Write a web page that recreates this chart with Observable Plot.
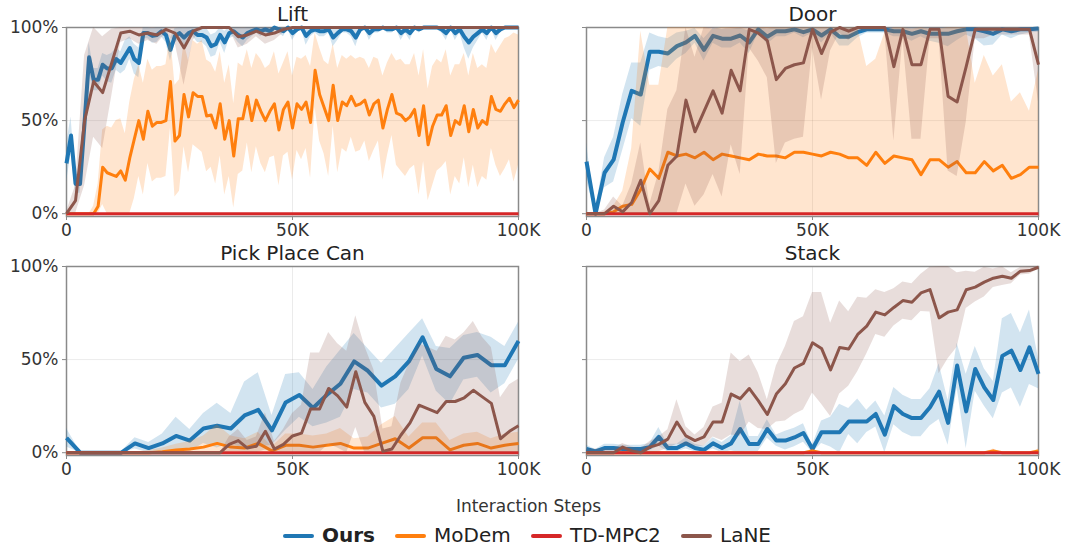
<!DOCTYPE html>
<html><head><meta charset="utf-8">
<script src="https://cdn.jsdelivr.net/npm/d3@7"></script>
<script src="https://cdn.jsdelivr.net/npm/@observablehq/plot@0.6"></script>
<style>
body{margin:0;background:#fff;font-family:"DejaVu Sans",sans-serif;}
#root{position:relative;width:1067px;height:550px;overflow:hidden;background:#fff;}
.panel{position:absolute;}
.panel svg{overflow:visible;}
#legend{position:absolute;left:0;top:0;}
</style></head><body><div id="root"></div>
<script>
// ---------- labels ----------
const methods = ["Ours", "MoDem", "TD-MPC2", "LaNE"];
const colors = ["#1f77b4", "#ff7f0e", "#d62728", "#8c564b"];
const tasks = ["Lift", "Door", "Pick Place Can", "Stack"];
const xTicks = [0, 50, 100];
const xTickLabels = ["0", "50K", "100K"];
const yTicks = [0, 0.5, 1];
const yTickLabels = ["0%", "50%", "100%"];
const xLabel = "Interaction Steps";

// x sampling grids (thousands of steps)
const steps1 = d3.range(0, 101, 1);
const steps2 = d3.range(0, 101, 2);
const steps3 = d3.range(34).map(i => i * 100 / 33);

// ---------- Lift ----------
const liftOurs = [0.27,0.42,0.16,0.16,0.49,0.84,0.72,0.72,0.80,0.78,
 0.78,0.83,0.81,0.85,0.89,0.83,0.81,0.97,0.97,0.955,
 0.96,0.98,0.96,0.88,0.955,0.97,0.946,0.97,0.98,0.96,
 0.96,0.946,0.90,0.91,0.96,0.92,0.97,0.98,0.96,0.946,
 0.97,0.98,0.99,0.98,0.99,0.98,1.0,0.99,0.98,1.0,
 0.97,0.99,1.0,0.955,0.98,0.99,0.98,0.98,0.99,0.946,
 0.97,0.99,0.99,0.98,0.946,0.99,1.0,0.97,0.99,0.99,
 1.0,0.99,0.99,1.0,0.97,0.99,0.97,1.0,0.99,1.0,
 1.0,1.0,1.0,0.99,0.97,1.0,0.97,0.99,0.95,0.92,
 0.95,0.97,0.99,0.97,1.0,0.97,0.99,1.0,1.0,1.0,
 1.0];
const liftOursSd = [0.1,0.1,0.05,0.05,0.1,0.08,0.06,0.06,0.06,0.07,
 0.08,0.06,0.06,0.08,0.06,0.08,0.08,0.03,0.03,0.04,
 0.04,0.03,0.04,0.06,0.04,0.03,0.05,0.03,0.03,0.04,
 0.04,0.05,0.06,0.06,0.04,0.06,0.03,0.03,0.04,0.05,
 0.04,0.03,0.02,0.03,0.02,0.03,0.01,0.02,0.03,0.01,
 0.04,0.02,0.01,0.05,0.03,0.02,0.03,0.03,0.02,0.05,
 0.04,0.02,0.02,0.03,0.05,0.02,0.01,0.04,0.02,0.02,
 0.01,0.02,0.02,0.01,0.04,0.02,0.04,0.01,0.02,0.01,
 0.01,0.01,0.01,0.02,0.04,0.01,0.04,0.02,0.06,0.09,
 0.06,0.04,0.02,0.04,0.01,0.04,0.02,0.01,0.01,0.01,
 0.01];
const liftModem = [0,0,0,0,0,0,0,0.04,0.25,0.22,
 0.21,0.20,0.23,0.18,0.30,0.40,0.50,0.40,0.55,0.47,
 0.49,0.49,0.50,0.71,0.39,0.42,0.64,0.52,0.65,0.63,
 0.63,0.525,0.53,0.46,0.59,0.40,0.50,0.31,0.51,0.51,
 0.63,0.50,0.61,0.55,0.50,0.55,0.59,0.45,0.56,0.60,
 0.46,0.59,0.56,0.60,0.49,0.77,0.64,0.57,0.50,0.69,
 0.50,0.60,0.58,0.63,0.58,0.59,0.61,0.53,0.59,0.61,
 0.46,0.56,0.64,0.54,0.53,0.50,0.52,0.56,0.42,0.58,
 0.37,0.47,0.53,0.53,0.58,0.42,0.50,0.48,0.58,0.44,
 0.56,0.46,0.50,0.48,0.63,0.56,0.55,0.59,0.62,0.57,
 0.61];
const liftModemSd = [0,0,0,0,0,0,0.04,0.12,0.2,0.25,
 0.25,0.3,0.28,0.25,0.3,0.32,0.3,0.3,0.28,0.3,
 0.3,0.3,0.3,0.25,0.3,0.3,0.28,0.3,0.28,0.28,
 0.3,0.3,0.28,0.3,0.28,0.3,0.3,0.28,0.3,0.28,
 0.25,0.28,0.25,0.28,0.28,0.25,0.28,0.3,0.25,0.27,
 0.28,0.25,0.27,0.25,0.3,0.2,0.25,0.25,0.3,0.22,
 0.28,0.25,0.25,0.22,0.25,0.25,0.22,0.25,0.25,0.22,
 0.28,0.25,0.22,0.28,0.3,0.3,0.28,0.3,0.32,0.3,
 0.3,0.32,0.3,0.28,0.3,0.32,0.3,0.32,0.28,0.3,
 0.3,0.32,0.3,0.3,0.28,0.3,0.35,0.35,0.33,0.4,
 0.35];
const liftLane = [0,0.07,0.5,0.71,0.65,0.81,0.97,0.98,0.96,0.97,
 0.96,0.99,0.97,0.89,0.98,1.0,1.0,1.0,1.0,0.95,
 0.96,0.98,0.96,0.97,0.99,1.0,1.0,1.0,1.0,1.0,
 1.0,1.0,1.0,1.0,1.0,1.0,1.0,1.0,1.0,1.0,
 1.0,1.0,1.0,1.0,1.0,1.0,1.0,1.0,1.0,1.0,
 1.0];
const liftLaneSd = [0.01,0.08,0.35,0.3,0.3,0.18,0.05,0.04,0.05,0.04,
 0.05,0.02,0.05,0.2,0.05,0.01,0.01,0.01,0.01,0.06,
 0.05,0.03,0.05,0.04,0.02,0,0,0,0,0,
 0,0,0,0,0,0,0,0,0,0,
 0,0,0,0,0,0,0,0,0,0,
 0];

// ---------- Door ----------
const doorOurs = [0.28,0.0,0.22,0.29,0.49,0.66,0.64,0.87,0.87,0.86,
 0.90,0.92,0.955,0.88,0.955,0.94,0.94,0.957,0.92,0.99,
 0.95,0.98,0.98,0.99,0.975,0.99,0.957,0.99,0.95,0.95,
 0.975,0.99,0.99,0.99,0.98,0.98,0.966,0.98,0.966,0.966,
 0.966,0.98,0.99,0.99,0.98,0.966,0.99,0.98,0.99,0.99,
 0.995];
const doorOursSd = [0.1,0.02,0.08,0.12,0.15,0.15,0.17,0.1,0.08,0.08,
 0.07,0.06,0.04,0.06,0.04,0.05,0.05,0.04,0.06,0.02,
 0.04,0.03,0.03,0.02,0.03,0.02,0.04,0.02,0.05,0.05,
 0.03,0.02,0.02,0.02,0.03,0.03,0.04,0.03,0.04,0.05,
 0.07,0.05,0.03,0.05,0.08,0.06,0.03,0.04,0.03,0.02,
 0.02];
const doorModem = [0,0,0,0.01,0.04,0.05,0.13,0.24,0.19,0.33,
 0.31,0.32,0.30,0.33,0.29,0.32,0.31,0.30,0.29,0.32,
 0.31,0.31,0.30,0.33,0.33,0.32,0.31,0.33,0.32,0.30,
 0.30,0.26,0.33,0.27,0.31,0.30,0.29,0.21,0.29,0.29,
 0.25,0.28,0.22,0.22,0.28,0.23,0.26,0.19,0.21,0.25,
 0.25];
const doorModemSd = [0,0,0.01,0.03,0.08,0.3,0.85,0.45,0.5,0.7,
 0.7,0.7,0.7,0.7,0.7,0.7,0.7,0.7,0.7,0.7,
 0.7,0.7,0.7,0.7,0.7,0.7,0.7,0.7,0.7,0.7,
 0.7,0.53,0.5,0.7,0.7,0.7,0.7,0.8,0.7,0.7,
 0.75,0.72,0.78,0.48,0.57,0.51,0.54,0.41,0.44,0.3,
 0.52];
const doorLane = [0,0,0,0.04,0.01,0.06,0.18,0.0,0.07,0.26,
 0.31,0.61,0.44,0.55,0.66,0.54,0.77,0.66,0.99,0.97,
 0.93,0.72,0.78,0.80,0.81,0.99,0.86,0.975,1.0,0.98,
 1.0,1.0,1.0,1.0,0.79,0.99,0.80,0.80,0.99,0.99,
 0.63,0.60,0.79,0.99,0.99,0.99,0.99,0.99,0.99,0.99,
 0.80];
const doorLaneSd = [0,0,0.02,0.05,0.03,0.1,0.2,0.05,0.15,0.3,
 0.35,0.45,0.4,0.45,0.45,0.45,0.4,0.45,0.1,0.15,
 0.2,0.45,0.4,0.4,0.4,0.1,0.25,0.1,0.03,0.05,
 0.02,0.02,0.02,0.02,0.4,0.05,0.4,0.4,0.05,0.05,
 0.4,0.4,0.3,0.05,0.05,0.03,0.03,0.03,0.03,0.03,
 0.2];

// ---------- Pick Place Can ----------
const ppcOurs = [0.08,0,0,0,0,0.05,0.025,0.05,0.09,0.065,
 0.13,0.145,0.13,0.20,0.23,0.12,0.27,0.31,0.24,0.31,
 0.37,0.49,0.44,0.36,0.41,0.49,0.62,0.45,0.41,0.51,
 0.525,0.47,0.47,0.60];
const ppcOursSd = [0.05,0.005,0.005,0.005,0.005,0.03,0.03,0.05,0.1,0.06,
 0.08,0.12,0.08,0.18,0.2,0.08,0.15,0.12,0.1,0.15,
 0.18,0.15,0.12,0.12,0.15,0.15,0.1,0.12,0.15,0.12,
 0.12,0.15,0.1,0.1];
const ppcModem = [0,0,0,0,0,0,0,0.005,0.015,0.02,
 0.03,0.05,0.03,0.025,0.05,0.01,0.04,0.04,0.03,0.04,
 0.05,0.025,0.025,0.05,0.075,0.025,0.08,0.08,0.015,0.04,
 0.05,0.025,0.04,0.05];
const ppcModemSd = [0,0,0,0,0,0.005,0.01,0.02,0.03,0.04,
 0.06,0.1,0.06,0.05,0.06,0.02,0.06,0.06,0.06,0.06,
 0.08,0.05,0.06,0.1,0.12,0.06,0.08,0.08,0.05,0.06,
 0.06,0.05,0.06,0.06];
const ppcLane = [0,0,0,0,0,0,0,0,0,0,
 0,0,0,0,0,0,0,0,0.045,0.065,
 0.025,0.035,0.115,0.02,0.045,0.09,0.105,0.235,0.235,0.345,
 0.305,0.245,0.435,0.27,0.195,0.007,0.02,0.095,0.16,0.255,
 0.235,0.215,0.275,0.275,0.295,0.335,0.30,0.265,0.075,0.115,
 0.145];
const ppcLaneSd = [0,0,0,0,0,0,0,0,0,0,
 0,0,0,0,0,0,0,0,0.04,0.06,
 0.04,0.05,0.1,0.04,0.08,0.12,0.15,0.3,0.3,0.3,
 0.28,0.3,0.3,0.3,0.25,0.12,0.12,0.28,0.33,0.33,
 0.33,0.33,0.35,0.33,0.35,0.37,0.32,0.3,0.22,0.25,
 0.25];

// ---------- Stack ----------
const stackOurs = [0.02,0.007,0.025,0.025,0.02,0.02,0.02,0.03,0.085,0.025,
 0.025,0.05,0.025,0.015,0.05,0.025,0.05,0.127,0.047,0.047,
 0.127,0.065,0.065,0.082,0.106,0.02,0.11,0.11,0.11,0.168,
 0.168,0.168,0.208,0.097,0.25,0.208,0.186,0.186,0.244,0.328,
 0.16,0.468,0.222,0.45,0.351,0.283,0.52,0.548,0.444,0.566,
 0.423];
const stackOursSd = [0.02,0.01,0.02,0.02,0.02,0.02,0.02,0.02,0.05,0.02,
 0.02,0.03,0.02,0.02,0.03,0.03,0.04,0.15,0.04,0.04,
 0.05,0.03,0.05,0.05,0.05,0.02,0.06,0.08,0.15,0.07,
 0.12,0.06,0.07,0.1,0.1,0.1,0.1,0.1,0.1,0.15,
 0.12,0.12,0.2,0.12,0.1,0.1,0.2,0.2,0.2,0.2,
 0.08];
const stackModem = [0,0,0,0,0,0,0,0,0,0,
 0,0,0,0,0,0,0,0,0,0,
 0,0,0,0,0,0.01,0,0,0,0,
 0,0,0,0,0,0,0,0,0,0,
 0,0,0,0,0,0.01,0,0,0,0,
 0.01];
const stackModemSd = [0,0,0,0,0,0,0,0,0,0,
 0,0,0,0,0,0,0,0,0,0,
 0,0,0,0,0,0.01,0,0,0,0,
 0,0,0,0,0,0,0,0,0,0,
 0,0,0,0,0,0.01,0,0,0,0,
 0.01];
const stackLane = [0,0,0,0,0.03,0.01,0,0.03,0.045,0.073,
 0.165,0.09,0.065,0.085,0.165,0.165,0.315,0.29,0.345,0.28,
 0.205,0.315,0.37,0.455,0.48,0.59,0.56,0.445,0.565,0.557,
 0.635,0.68,0.755,0.74,0.78,0.817,0.808,0.858,0.876,0.724,
 0.755,0.767,0.875,0.889,0.916,0.937,0.948,0.937,0.975,0.978,
 0.996];
const stackLaneSd = [0.02,0.02,0.02,0.02,0.02,0.02,0.02,0.03,0.04,0.05,
 0.12,0.05,0.03,0.05,0.08,0.1,0.22,0.2,0.18,0.15,
 0.08,0.15,0.2,0.25,0.25,0.27,0.3,0.25,0.25,0.2,
 0.2,0.15,0.12,0.12,0.1,0.1,0.1,0.1,0.12,0.3,
 0.25,0.2,0.1,0.08,0.08,0.05,0.05,0.03,0.02,0.02,
 0.01];

// ---------- TD-MPC2 (flat at 0 in every task) ----------
const tdmpc2 = [0,0,0,0,0,0,0,0,0,0,
 0,0,0,0,0,0,0,0,0,0,
 0,0,0,0,0,0,0,0,0,0,
 0,0,0,0,0,0,0,0,0,0,
 0,0,0,0,0,0,0,0,0,0,
 0];
const tdmpc2Sd = tdmpc2;

// ---------- assemble ----------
const panelSeries = [
  [[steps1, liftOurs, liftOursSd], [steps1, liftModem, liftModemSd], [steps2, tdmpc2, tdmpc2Sd], [steps2, liftLane, liftLaneSd]],
  [[steps2, doorOurs, doorOursSd], [steps2, doorModem, doorModemSd], [steps2, tdmpc2, tdmpc2Sd], [steps2, doorLane, doorLaneSd]],
  [[steps3, ppcOurs, ppcOursSd], [steps3, ppcModem, ppcModemSd], [steps2, tdmpc2, tdmpc2Sd], [steps2, ppcLane, ppcLaneSd]],
  [[steps2, stackOurs, stackOursSd], [steps2, stackModem, stackModemSd], [steps2, tdmpc2, tdmpc2Sd], [steps2, stackLane, stackLaneSd]]
];
const lineWidths = [4, 3, 3, 3];
const positions = [{left: 0, top: 0}, {left: 520, top: 0}, {left: 0, top: 239}, {left: 520, top: 239}];

const xLabelMap = new Map(xTicks.map((t, i) => [t, xTickLabels[i]]));
const yLabelMap = new Map(yTicks.map((t, i) => [t, yTickLabels[i]]));
const root = document.getElementById("root");

tasks.forEach((task, p) => {
  const showY = p % 2 === 0;
  const marks = [
    Plot.gridX([50], {stroke: "#000", strokeOpacity: 0.08, strokeWidth: 1}),
    Plot.gridY([0.5], {stroke: "#000", strokeOpacity: 0.08, strokeWidth: 1}),
    Plot.frame({stroke: "#8a8a8a", strokeWidth: 1.5})
  ];
  panelSeries[p].forEach(([xs, m, s], k) => {
    const rows = xs.map((x, i) => ({x, y: m[i], lo: Math.max(0, m[i] - s[i]), hi: Math.min(1, m[i] + s[i])}));
    marks.push(Plot.areaY(rows, {x: "x", y1: "lo", y2: "hi", fill: colors[k], fillOpacity: 0.2}));
    marks.push(Plot.lineY(rows, {x: "x", y: "y", stroke: colors[k], strokeWidth: lineWidths[k], strokeLinejoin: "round", strokeLinecap: "butt"}));
  });
  marks.push(
    Plot.axisX({ticks: xTicks, tickFormat: d => xLabelMap.get(d), tickSize: 4, tickPadding: 3, label: null, stroke: "#8a8a8a", fill: "#333", fontSize: 17}),
    Plot.axisY({ticks: yTicks, tickFormat: d => showY ? yLabelMap.get(d) : "", tickSize: 4, tickPadding: 4, label: null, stroke: "#8a8a8a", fill: "#333", fontSize: 17}),
    Plot.text([task], {frameAnchor: "top", lineAnchor: "middle", dy: -13, fontSize: 20, fill: "#222"})
  );
  const chart = Plot.plot({
    width: 547, height: 250,
    marginLeft: 66, marginRight: 29, marginTop: 27, marginBottom: 34,
    x: {domain: [0, 100]},
    y: {domain: [-0.015, 1]},
    style: {fontFamily: "DejaVu Sans", fontSize: "17px", color: "#333", background: "transparent"},
    marks
  });
  const div = document.createElement("div");
  div.className = "panel";
  div.style.left = positions[p].left + "px";
  div.style.top = positions[p].top + "px";
  div.appendChild(chart);
  root.appendChild(div);
});

// ---------- x label + legend ----------
const svg = d3.select(root).append("svg").attr("id", "legend")
  .attr("width", 1067).attr("height", 550)
  .style("font-family", "DejaVu Sans");
svg.append("text").attr("x", 528.5).attr("y", 512).attr("text-anchor", "middle")
  .attr("font-size", 17).attr("fill", "#333").text(xLabel);
const legendX = [285, 397, 533, 683];
methods.forEach((name, k) => {
  svg.append("line").attr("x1", legendX[k]).attr("x2", legendX[k] + 27)
    .attr("y1", 536).attr("y2", 536).attr("stroke", colors[k]).attr("stroke-width", 4).attr("stroke-linecap", "round");
  svg.append("text").attr("x", legendX[k] + 37).attr("y", 542)
    .attr("font-size", 20).attr("fill", "#222").attr("font-weight", k === 0 ? "bold" : "normal").text(name);
});
</script>
</body></html>
